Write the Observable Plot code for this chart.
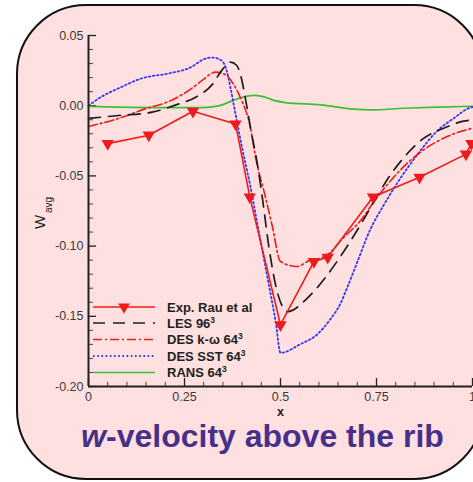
<!DOCTYPE html>
<html>
<head>
<meta charset="utf-8">
<script src="https://cdn.jsdelivr.net/npm/d3@7"></script>
<script src="https://cdn.jsdelivr.net/npm/@observablehq/plot@0.6"></script>
<style>
  html, body { margin: 0; padding: 0; background: #ffffff; width: 473px; height: 482px; overflow: hidden; }
  #frame { position: absolute; left: 16px; top: 4px; width: 468px; height: 476px; box-sizing: border-box;
           border: 2px solid #111; border-radius: 70px; background: #fee0e0; }
  #chart { position: absolute; left: 0; top: 0; }
  #title { position: absolute; left: 0; top: 422px; width: 525px; text-align: center;
           font: bold 32px "Liberation Sans", Arial, sans-serif; line-height: 28px; color: #48308a; white-space: nowrap; }
</style>
</head>
<body>
<div id="frame"></div>
<div id="chart"></div>
<div id="title"><i>w</i>-velocity above the rib</div>
<script>
// ---- data ----
const expX = [0.05, 0.157, 0.272, 0.383, 0.42, 0.5, 0.587, 0.623, 0.741, 0.862, 0.983, 0.997];
const expY = [-0.027, -0.021, -0.004, -0.013, -0.065, -0.156, -0.111, -0.108, -0.065, -0.051, -0.0345, -0.027];

const lesX = [0, 0.079, 0.166, 0.228, 0.279, 0.322, 0.348, 0.37, 0.385, 0.396, 0.406, 0.422, 0.44, 0.452, 0.47, 0.491, 0.519, 0.57, 0.618, 0.652, 0.708, 0.74, 0.782, 0.821, 0.869, 0.925, 0.977, 1.0];
const lesY = [-0.009, -0.007, -0.0046, 0.0006, 0.006, 0.015, 0.0255, 0.031, 0.029, 0.022, 0.009, -0.016, -0.042, -0.064, -0.101, -0.132, -0.1466, -0.137, -0.122, -0.109, -0.085, -0.07, -0.051, -0.037, -0.024, -0.016, -0.011, -0.010];

const kwX = [0, 0.079, 0.15, 0.209, 0.27, 0.296, 0.331, 0.357, 0.378, 0.4, 0.418, 0.439, 0.457, 0.478, 0.5, 0.543, 0.578, 0.6, 0.623, 0.664, 0.708, 0.747, 0.808, 0.865, 0.934, 1.0];
const kwY = [-0.0148, -0.009, -0.002, 0.003, 0.0125, 0.018, 0.0239, 0.022, 0.015, 0.003, -0.011, -0.042, -0.061, -0.085, -0.111, -0.1145, -0.11, -0.109, -0.106, -0.094, -0.082, -0.067, -0.047, -0.033, -0.022, -0.016];

const sstX = [0, 0.027, 0.079, 0.14, 0.209, 0.27, 0.296, 0.322, 0.344, 0.358, 0.37, 0.378, 0.4, 0.422, 0.439, 0.465, 0.488, 0.5, 0.551, 0.595, 0.63, 0.656, 0.673, 0.699, 0.734, 0.769, 0.8125, 0.856, 0.908, 0.951, 0.995, 1.0];
const sstY = [0.0, 0.0053, 0.0125, 0.0196, 0.023, 0.0279, 0.0326, 0.0343, 0.0326, 0.0267, 0.0125, 0.001, -0.03, -0.058, -0.083, -0.121, -0.155, -0.176, -0.170, -0.163, -0.152, -0.141, -0.13, -0.112, -0.088, -0.0707, -0.0516, -0.035, -0.018, -0.009, -0.0013, -0.001];

const ransX = [0, 0.166, 0.295, 0.339, 0.374, 0.41, 0.435, 0.461, 0.488, 0.513, 0.604, 0.691, 0.734, 0.821, 0.908, 1.0];
const ransY = [-0.0005, -0.0013, -0.0013, -0.0001, 0.0034, 0.0066, 0.0073, 0.006, 0.0034, 0.0022, 0.0006, -0.0025, -0.003, -0.0018, -0.001, -0.0004];

const yTicks = [0.05, 0, -0.05, -0.1, -0.15, -0.2];
const yTickLabels = ["0.05", "0.00", "-0.05", "-0.10", "-0.15", "-0.20"];
const xTicks = [0, 0.25, 0.5, 0.75, 1];
const xTickLabels = ["0", "0.25", "0.5", "0.75", "1"];

const seriesNames = ["Exp. Rau et al", "LES 96", "DES k-\u03c9 64", "DES SST 64", "RANS 64"];
const seriesSup = ["", "3", "3", "3", "3"];

// ---- styles ----
const RED = "#f01a1a", BLACK = "#1e1e1e", BLUE = "#3434ff", GREEN = "#3cbf32";
const styles = [
  {stroke: RED, strokeWidth: 1.6, dash: null},
  {stroke: BLACK, strokeWidth: 1.7, dash: "12,8"},
  {stroke: RED, strokeWidth: 1.6, dash: "9,3,2,3"},
  {stroke: BLUE, strokeWidth: 1.8, dash: "1.6,2.6"},
  {stroke: GREEN, strokeWidth: 1.7, dash: null}
];

const toRows = (xs, ys) => xs.map((x, i) => ({x, y: ys[i]}));
const yMinor = d3.range(-20, 6).map(k => k / 100).filter(v => !yTicks.some(t => Math.abs(t - v) < 1e-9));
const xMinor = d3.range(0, 21).map(k => k / 20).filter(v => !xTicks.some(t => Math.abs(t - v) < 1e-9));

const font = "'Liberation Sans', Arial, sans-serif";

const plot = Plot.plot({
  width: 473, height: 420,
  marginLeft: 88, marginRight: 1, marginTop: 35, marginBottom: 34,
  x: {domain: [0, 1]},
  y: {domain: [-0.2, 0.05]},
  style: {background: "transparent", fontFamily: font, overflow: "visible"},
  marks: [
    Plot.axisY({ticks: yTicks, tickSize: 0, tickPadding: 5, tickFormat: d => yTickLabels[yTicks.indexOf(d)], fontSize: 12.5, color: "#3a3a3a", label: null}),
    Plot.axisX({ticks: xTicks, tickSize: 0, tickPadding: 6, tickFormat: d => xTickLabels[xTicks.indexOf(d)], fontSize: 12.5, color: "#3a3a3a", label: null}),
    // inward ticks
    Plot.ruleY(yTicks, {y: d => d, x1: 0, x2: 0.021, stroke: "#222", strokeWidth: 1.3}),
    Plot.ruleY(yMinor, {y: d => d, x1: 0, x2: 0.013, stroke: "#444", strokeWidth: 1}),
    Plot.ruleX(xTicks, {x: d => d, y1: -0.2, y2: -0.2 + 0.0057, stroke: "#222", strokeWidth: 1.3}),
    Plot.ruleX(xMinor, {x: d => d, y1: -0.2, y2: -0.2 + 0.003, stroke: "#444", strokeWidth: 1}),
    // series
    Plot.line(toRows(ransX, ransY), {x: "x", y: "y", stroke: styles[4].stroke, strokeWidth: styles[4].strokeWidth, curve: "monotone-x"}),
    Plot.line(toRows(sstX, sstY), {x: "x", y: "y", stroke: styles[3].stroke, strokeWidth: styles[3].strokeWidth, strokeDasharray: styles[3].dash, curve: "monotone-x"}),
    Plot.line(toRows(kwX, kwY), {x: "x", y: "y", stroke: styles[2].stroke, strokeWidth: styles[2].strokeWidth, strokeDasharray: styles[2].dash, curve: "monotone-x"}),
    Plot.line(toRows(lesX, lesY), {x: "x", y: "y", stroke: styles[1].stroke, strokeWidth: styles[1].strokeWidth, strokeDasharray: styles[1].dash, curve: "monotone-x"}),
    Plot.line(toRows(expX, expY), {x: "x", y: "y", stroke: styles[0].stroke, strokeWidth: styles[0].strokeWidth}),
    Plot.dot(toRows(expX, expY), {x: "x", y: "y", symbol: "triangle", rotate: 180, r: 4.6, fill: RED, stroke: "none"}),
    // axis lines
    Plot.ruleX([0], {stroke: "#222", strokeWidth: 2}),
    Plot.ruleY([-0.2], {stroke: "#222", strokeWidth: 2}),
    // axis labels
    Plot.text(["W"], {frameAnchor: "left", dx: -48, dy: 11, rotate: -90, text: d => d, fontSize: 15, fill: "#222", textAnchor: "middle", lineAnchor: "middle"}),
    Plot.text(["avg"], {frameAnchor: "left", dx: -40, dy: -6, rotate: -90, text: d => d, fontSize: 10, fill: "#222", textAnchor: "middle", lineAnchor: "middle"}),
    Plot.text(["x"], {frameAnchor: "bottom", dy: 25.3, text: d => d, fontSize: 12.5, fontWeight: "bold", fill: "#222", textAnchor: "middle", lineAnchor: "middle"})
  ]
});

document.getElementById("chart").appendChild(plot);

// ---- legend ----
const svg = d3.select(plot);
const lg = svg.append("g").attr("font-family", font).attr("text-anchor", "start");
const legendY = [307, 323, 339.5, 356, 372.5];
seriesNames.forEach((name, i) => {
  const s = styles[i];
  const y = legendY[i];
  lg.append("line").attr("x1", 93).attr("x2", 155).attr("y1", y).attr("y2", y)
    .attr("stroke", s.stroke).attr("stroke-width", s.strokeWidth)
    .attr("stroke-dasharray", s.dash);
  if (i === 0) {
    lg.append("path").attr("d", d3.symbol(d3.symbolTriangle, 60)()).attr("transform", `translate(124,${y}) rotate(180)`).attr("fill", RED);
  }
  const t = lg.append("text").attr("x", 167).attr("y", y).attr("dy", "0.35em").attr("text-anchor", "start")
    .attr("font-size", 13).attr("font-weight", "bold").attr("fill", "#222").text(name);
  if (seriesSup[i]) t.append("tspan").attr("dy", "-0.55em").attr("font-size", 8.5).text(seriesSup[i]);
});
</script>
</body>
</html>
